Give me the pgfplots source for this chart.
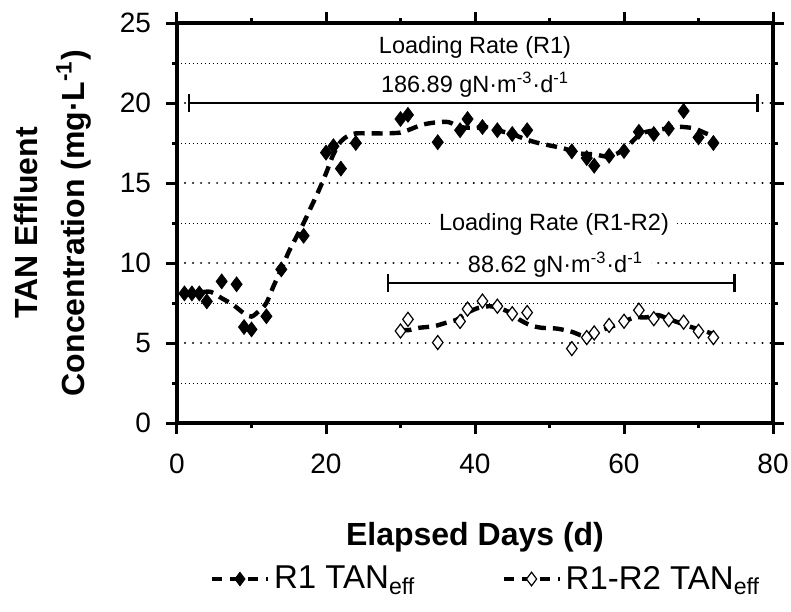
\documentclass[border=0pt]{standalone}
\usepackage{pgfplots}
\pgfplotsset{compat=1.18}
\usepackage{fontspec}
\setmainfont{Liberation Sans}
\pgfplotsset{
  mylegend/.style={legend image code/.code={\draw[##1, mark=none] (0pt,0pt) -- (28pt,0pt); \draw[##1] plot coordinates {(14pt,0pt)};}}
}

\begin{document}
\begin{tikzpicture}
\path[use as bounding box] (-88.5pt,-94pt) rectangle (307pt,211.5pt);
\begin{axis}[
  at={(0pt,0pt)}, anchor=south west,
  width=298pt, height=200pt, scale only axis,
  xmin=0, xmax=80, ymin=0, ymax=25,
  xtick={0,20,40,60,80}, minor xtick={10,30,50,70},
  ytick={0,5,10,15,20,25}, minor ytick={2.5,7.5,12.5,17.5,22.5},
  tick align=outside,
  major tick length=5.5pt, minor tick length=2.5pt,
  tick style={black, line width=1.5pt},
  axis line style={black, line width=1.75pt},
  ymajorgrids, yminorgrids,
  major grid style={black, line width=1.1pt, dash pattern=on 0.01pt off 4pt, line cap=round},
  minor grid style={black, line width=0.45pt, dash pattern=on 0.5pt off 1.5pt},
  tick label style={font=\fontsize{14}{16}\selectfont},
  xticklabel style={yshift=-6.5pt},
  yticklabel style={xshift=-4pt},
  /pgf/number format/assume math mode=true,
  xlabel={Elapsed Days (d)},
  ylabel={TAN Effluent\\Concentration (mg·L\textsuperscript{-1})},
  xlabel style={at={(axis description cs:0.5,0)}, anchor=center, yshift=-57pt, font=\fontsize{16}{19}\selectfont\bfseries},
  ylabel style={at={(axis description cs:-0.209,0.5)}, anchor=center, align=center, font=\fontsize{16}{23.5}\selectfont\bfseries},
  legend style={at={(axis description cs:0.52,-0.39)}, anchor=center, draw=none, fill=none,
    font=\fontsize{16.5}{19}\selectfont, /tikz/every even column/.append style={column sep=41pt}},
  legend columns=2,
  legend cell align=left,
]
% loading rate bars
\addplot[black, line width=1.3pt, mark=|, mark size=4.5pt, mark options={solid, line width=1.3pt}, forget plot]
  coordinates {(1.6,20) (77.9,20)};
\addplot[black, line width=1.3pt, mark=|, mark size=4.5pt, mark options={solid, line width=1.3pt}, forget plot]
  coordinates {(28.3,8.75) (74.8,8.75)};

% R1 data
\addplot[only marks, mark=diamond*, mark size=3.7pt, mark options={fill=black, draw=black, line width=0.4pt}, forget plot]
  coordinates {
  (1,8.1) (2,8.1) (3,8.1) (4,7.6) (6,8.85) (8,8.67) (9,6.0) (10,5.85) (12,6.67) (14,9.6)
  (17,11.7) (20,16.9) (21,17.3) (22,15.9) (24,17.5) (30,19.0) (31,19.26) (35,17.55) (38,18.3) (39,19.0)
  (41,18.5) (43,18.3) (45,18.06) (47,18.3) (53,16.98) (55,16.56) (56,16.08) (58,16.7) (60,17.0) (62,18.2)
  (64,18.06) (66,18.4) (68,19.5) (70,17.85) (72,17.5)
  };
% R1-R2 data
\addplot[only marks, mark=diamond*, mark size=3.5pt, mark options={fill=white, draw=black, line width=0.6pt}, forget plot]
  coordinates {
  (30,5.75) (31,6.48) (35,5.03) (38,6.35) (39,7.12) (41,7.62) (43,7.3) (45,6.83) (47,6.9) (53,4.65)
  (55,5.34) (56,5.63) (58,6.1) (60,6.36) (62,7.05) (64,6.52) (66,6.46) (68,6.3) (70,5.73) (72,5.34)
  };
% R1 trend
\addplot[black, line width=2.2pt, dash pattern=on 5.5pt off 3.5pt, smooth, tension=0.5, forget plot]
  coordinates {
  (1,8.1) (2,8.1) (3,8.15) (4.5,8.2) (6,7.8) (7.5,7.4) (9,6.85) (10,6.65) (11,7.0) (12,7.5)
  (13,8.6) (14,9.6) (15,10.7) (16,11.6) (17,12.5) (18,13.5) (19,14.5) (20,15.6) (21,16.8) (22,17.6)
  (23,17.95) (24,18.1) (26,18.1) (28,18.1) (30,18.15) (31,18.3) (33,18.65) (35,18.8) (36.5,18.8) (38,18.5)
  (40,18.45) (41.5,18.5) (43,18.3) (45,18.05) (47,17.7) (48.5,17.5) (50,17.35) (52,17.15) (54,16.85) (56,16.8)
  (58,16.65) (60,17.1) (62,18.0) (63,18.2) (65,18.35) (67,18.5) (68,18.5) (69.5,18.4) (71,18.1) (72,17.95)
  };
% R1-R2 trend
\addplot[black, line width=2.2pt, dash pattern=on 5.5pt off 3.5pt, smooth, tension=0.5, forget plot]
  coordinates {
  (30,5.85) (31,5.8) (32.5,5.95) (34.5,6.05) (36,6.25) (37.5,6.45) (39,6.9) (40.5,7.2) (42,7.3) (43,7.2)
  (44.5,6.95) (46,6.45) (47.5,6.1) (49,5.95) (51,5.9) (53,5.7) (54.5,5.45) (56,5.55) (57,5.8) (58.5,6.05)
  (60,6.35) (61.5,6.6) (63,6.6) (64.5,6.75) (66,6.5) (67.5,6.25) (69,6.0) (70.5,5.8) (72,5.55)
  };

% legend
\addlegendimage{black, line width=2.2pt, dash pattern=on 5pt off 4pt, mark=diamond*, mark size=3.4pt,
  mark options={solid, fill=black, line width=0.4pt}, mylegend}
\addlegendentry{R1 TAN\textsubscript{eff}}
\addlegendimage{black, line width=2.2pt, dash pattern=on 5pt off 4pt, mark=diamond*, mark size=3.4pt,
  mark options={solid, fill=white, line width=0.6pt}, mylegend}
\addlegendentry{R1-R2 TAN\textsubscript{eff}}

% labels
\node[font=\fontsize{11.75}{13}\selectfont, inner sep=1pt] at (axis cs:40,23.45) {Loading Rate (R1)};
\node[font=\fontsize{11.75}{13}\selectfont, inner sep=1pt] at (axis cs:40,21.15) {186.89 gN·m\textsuperscript{-3}·d\textsuperscript{-1}};
\node[font=\fontsize{11.75}{13}\selectfont, fill=white, inner xsep=4pt, inner ysep=1pt] at (axis cs:50.6,12.4) {Loading Rate (R1-R2)};
\node[font=\fontsize{11.75}{13}\selectfont, fill=white, inner xsep=4pt, inner ysep=1pt] at (axis cs:50.8,9.9) {88.62 gN·m\textsuperscript{-3}·d\textsuperscript{-1}};
\end{axis}
\end{tikzpicture}
\end{document}
